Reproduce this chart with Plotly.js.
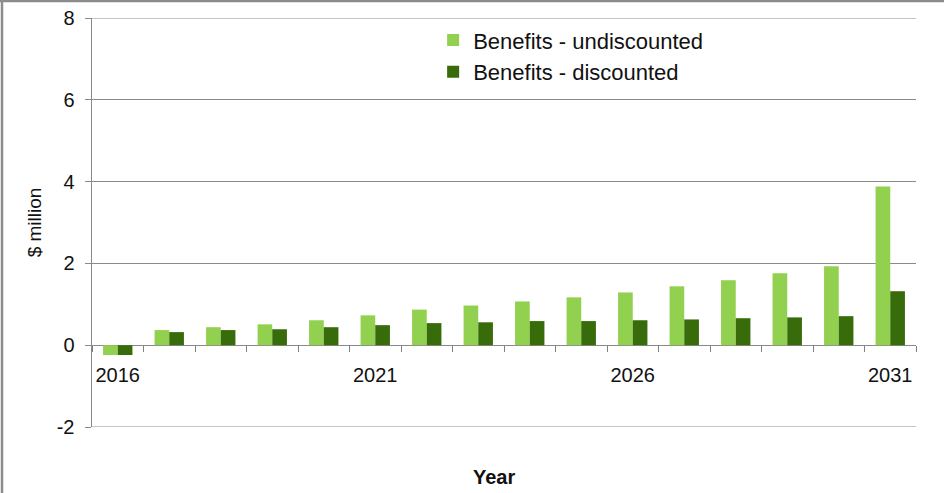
<!DOCTYPE html>
<html><head><meta charset="utf-8">
<script src="https://cdn.plot.ly/plotly-3.0.1.min.js"></script>
<style>
html,body{margin:0;padding:0;background:#fff;}
#chart{position:absolute;left:0;top:0;width:944px;height:493px;}
</style></head>
<body><div id="chart"></div>
<script>
const years = [2016,2017,2018,2019,2020,2021,2022,2023,2024,2025,2026,2027,2028,2029,2030,2031];
const undiscounted = [-0.24,0.37,0.44,0.51,0.61,0.73,0.87,0.97,1.07,1.17,1.29,1.44,1.59,1.76,1.93,3.88];
const discounted = [-0.24,0.32,0.37,0.39,0.44,0.49,0.54,0.56,0.59,0.59,0.61,0.63,0.66,0.68,0.71,1.32];
const labelYears = [2016,2021,2026,2031];
const yTicks = [-2,0,2,4,6,8];
const yTickText = ['-2','0','2','4','6','8'];

const font = 'Liberation Sans, Arial, sans-serif';
const W = 944, H = 493, M = {l:92, r:28, t:18, b:66};
const pw = W - M.l - M.r, ph = H - M.t - M.b;
const px = x => (x - M.l) / pw;          // page pixel -> paper x
const py = y => (H - M.b - y) / ph;      // page pixel -> paper y

const data = [
  {type:'bar', name:'Benefits - undiscounted', x:years, y:undiscounted, marker:{color:'#92D050'}},
  {type:'bar', name:'Benefits - discounted', x:years, y:discounted, marker:{color:'#386C0B'}}
];
const edgeLine = v => ({type:'line', xref:'paper', x0:0, x1:1, yref:'y', y0:v, y1:v, line:{color:'#8a8a8a', width:1}, layer:'below'});
const frameLine = (x0,y0,x1,y1) => ({type:'line', xref:'paper', yref:'paper', x0:px(x0), y0:py(y0), x1:px(x1), y1:py(y1), line:{color:'#8c8c8c', width:2.5}});
const layout = {
  width:W, height:H,
  margin:M,
  paper_bgcolor:'#fff', plot_bgcolor:'#fff',
  font:{family:font, size:20, color:'#111'},
  barmode:'group', bargap:0.43, bargroupgap:0,
  showlegend:true,
  legend:{x:0.414, y:0.997, xanchor:'left', yanchor:'top', bgcolor:'rgba(0,0,0,0)',
    font:{size:22, family:font, color:'#111'}, itemwidth:30, tracegroupgap:0, traceorder:'normal'},
  xaxis:{range:[2015.5,2031.5], tickvals:labelYears, ticktext:labelYears.map(String),
    ticks:'outside', ticklen:12, tickcolor:'rgba(0,0,0,0)',
    minor:{tick0:2015.5, dtick:1, ticks:'outside', ticklen:6, tickcolor:'#808080', showgrid:false},
    showline:false, showgrid:false, zeroline:false,
    anchor:'free', position:0.2, tickfont:{size:20, family:font, color:'#111'}},
  yaxis:{range:[-2,8], tickvals:yTicks, ticktext:yTickText, showgrid:true, gridcolor:'#8a8a8a', gridwidth:1,
    zeroline:false, showline:true, linecolor:'#8a8a8a', linewidth:1.5,
    ticks:'outside', ticklen:6, tickcolor:'#8a8a8a', ticklabelstandoff:6,
    tickfont:{size:20, family:font, color:'#111'},
    title:{text:'$ million', font:{size:19, family:font, color:'#111'}, standoff:10}},
  shapes:[edgeLine(-2), edgeLine(8), frameLine(2,0,2,H), frameLine(0,1,W,1)],
  annotations:[{text:'<b>Year</b>', xref:'paper', yref:'paper', x:0.488, y:-0.122, xanchor:'center', yanchor:'middle',
    showarrow:false, font:{size:20, family:font, color:'#111'}}]
};
Plotly.newPlot('chart', data, layout, {staticPlot:true});
</script></body></html>
